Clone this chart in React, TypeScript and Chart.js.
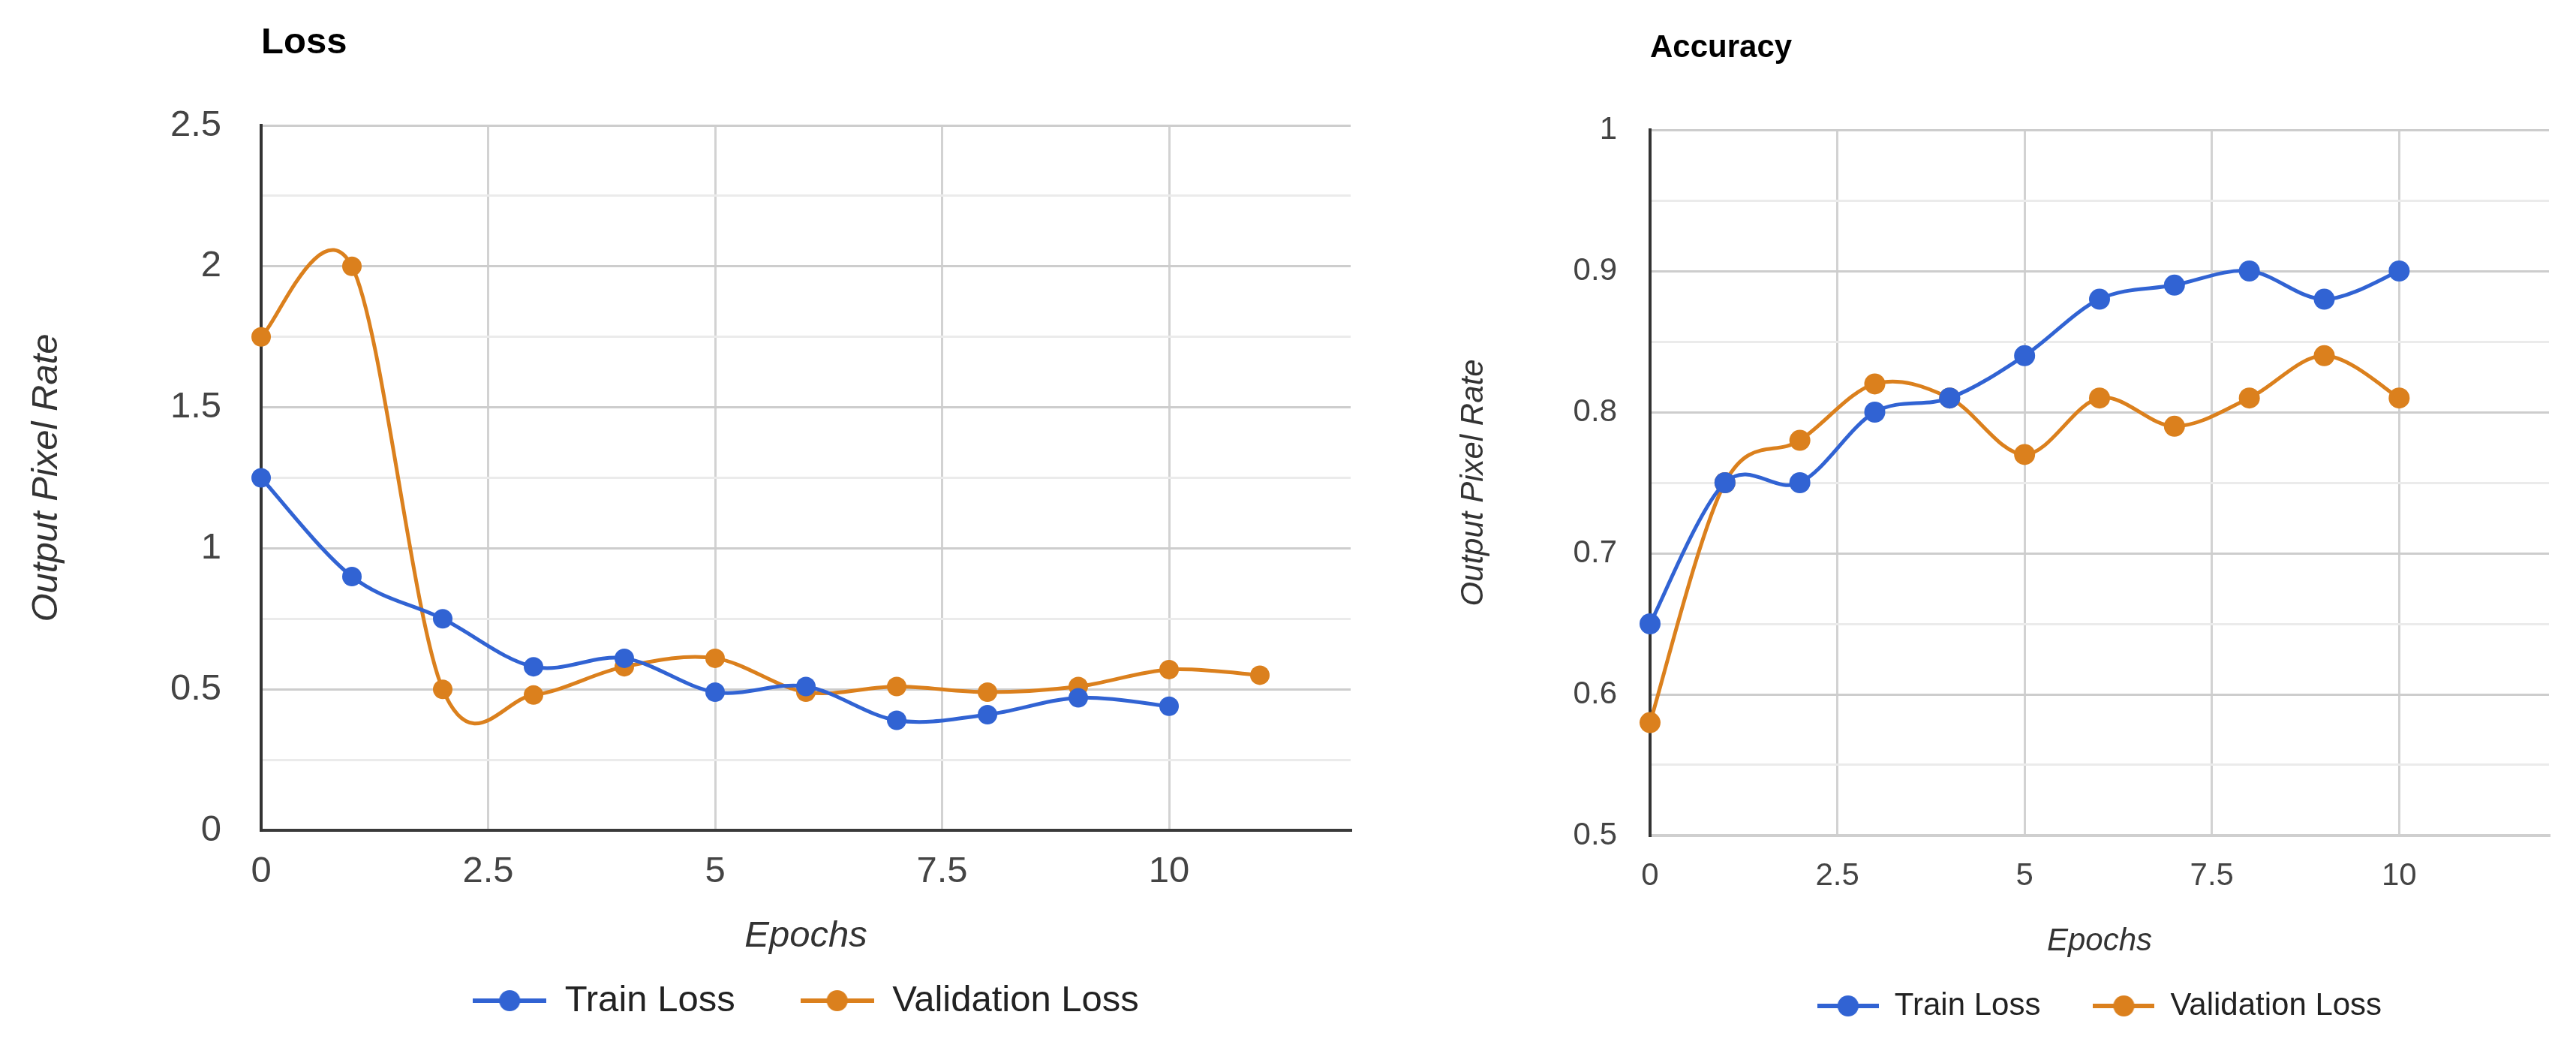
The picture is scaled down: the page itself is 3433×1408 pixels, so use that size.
import { useEffect, useRef } from "react";
import { Chart, registerables } from "chart.js";

Chart.register(...registerables);

// ---------- data ----------
const epochs = [0, 1, 2, 3, 4, 5, 6, 7, 8, 9, 10, 11];
const seriesNames = ["Train Loss", "Validation Loss"];

const lossTrain = [1.25, 0.9, 0.75, 0.58, 0.61, 0.49, 0.51, 0.39, 0.41, 0.47, 0.44];
const lossVal = [1.75, 2.0, 0.5, 0.48, 0.58, 0.61, 0.49, 0.51, 0.49, 0.51, 0.57, 0.55];

const accTrain = [0.65, 0.75, 0.75, 0.8, 0.81, 0.84, 0.88, 0.89, 0.9, 0.88, 0.9];
const accVal = [0.58, 0.75, 0.78, 0.82, 0.81, 0.77, 0.81, 0.79, 0.81, 0.84, 0.81];

const xTicks = [0, 2.5, 5, 7.5, 10];
const lossYTicks = [0, 0.25, 0.5, 0.75, 1, 1.25, 1.5, 1.75, 2, 2.25, 2.5];
const lossYLabels = [0, 0.5, 1, 1.5, 2, 2.5];
const accYTicks = [0.5, 0.55, 0.6, 0.65, 0.7, 0.75, 0.8, 0.85, 0.9, 0.95, 1];
const accYLabels = [0.5, 0.6, 0.7, 0.8, 0.9, 1];

const BLUE = "#3163d3";
const ORANGE = "#db801d";
const FONT = "'Liberation Sans', Arial, Helvetica, sans-serif";

// Catmull-Rom style smoothing (uniform in x), like a "function" curve
const catmullRom = {
  id: "catmullRom",
  beforeDatasetDraw(chart: any, args: any) {
    const meta = args.meta;
    const line = meta.dataset;
    if (!line || typeof line.updateControlPoints !== "function") return;
    line.updateControlPoints(chart.chartArea, meta.indexAxis || "x");
    const pts = meta.data;
    const n = pts.length;
    for (let i = 0; i < n; i++) {
      const p = pts[i];
      const prev = pts[Math.max(0, i - 1)];
      const next = pts[Math.min(n - 1, i + 1)];
      const dx = (next.x - prev.x) / 6;
      const dy = (next.y - prev.y) / 6;
      p.cp1x = p.x - dx;
      p.cp1y = p.y - dy;
      p.cp2x = p.x + dx;
      p.cp2y = p.y + dy;
    }
  },
};

function marker(color: string, w: number, r: number, lw: number) {
  const c = document.createElement("canvas");
  c.width = w;
  c.height = Math.ceil(2 * r + 2);
  const g = c.getContext("2d")!;
  const cy = c.height / 2;
  g.strokeStyle = color;
  g.lineWidth = lw;
  g.beginPath();
  g.moveTo(0, cy);
  g.lineTo(w, cy);
  g.stroke();
  g.fillStyle = color;
  g.beginPath();
  g.arc(w / 2, cy, r, 0, Math.PI * 2);
  g.fill();
  return c;
}

type Params = {
  title: string;
  train: number[];
  val: number[];
  yMin: number;
  yMax: number;
  yTicks: number[];
  yLabels: number[];
  fs: number;
  pad: { left: number; right: number; top: number; bottom: number };
  titlePad: { top: number; bottom: number };
  yTitlePad: { top: number; bottom: number };
  yTickPad: number;
  xTickPad: number;
  xTitlePad: { top: number; bottom: number };
  legendPad: number;
  legendLine: number;
  pointR: number;
  xBorder: string;
};

function makeConfig(p: Params): any {
  const markers = [marker(BLUE, p.legendLine, 14, 6), marker(ORANGE, p.legendLine, 14, 6)];
  const ds = (label: string, vals: number[], color: string) => ({
    label,
    data: vals.map((v, i) => ({ x: epochs[i], y: v })),
    borderColor: color,
    backgroundColor: color,
    borderWidth: 5,
    pointRadius: p.pointR,
    pointHoverRadius: p.pointR,
    pointBorderWidth: 0,
    pointBackgroundColor: color,
    tension: 0.4,
    fill: false,
    clip: false,
  });
  return {
    type: "line",
    data: {
      datasets: [ds(seriesNames[0], p.train, BLUE), ds(seriesNames[1], p.val, ORANGE)],
    },
    plugins: [catmullRom],
    options: {
      animation: false,
      responsive: false,
      maintainAspectRatio: false,
      events: [],
      layout: { padding: p.pad },
      plugins: {
        tooltip: { enabled: false },
        title: {
          display: true,
          text: p.title,
          align: "start",
          fullSize: false,
          color: "#000",
          font: { family: FONT, size: p.fs, weight: "bold", lineHeight: 1.2 },
          padding: p.titlePad,
        },
        legend: {
          display: true,
          position: "bottom",
          align: "center",
          fullSize: false,
          labels: {
            usePointStyle: true,
            pointStyleWidth: p.legendLine,
            boxHeight: p.fs,
            padding: p.legendPad,
            color: "#222",
            font: { family: FONT, size: p.fs },
            generateLabels: (chart: any) =>
              chart.data.datasets.map((d: any, i: number) => ({
                text: d.label,
                pointStyle: markers[i],
                fillStyle: d.borderColor,
                strokeStyle: d.borderColor,
                lineWidth: 0,
                hidden: false,
                datasetIndex: i,
                fontColor: "#222",
              })),
          },
        },
      },
      scales: {
        x: {
          type: "linear",
          min: 0,
          max: 12,
          afterBuildTicks: (axis: any) => {
            axis.ticks = xTicks.map((v) => ({ value: v }));
          },
          ticks: {
            autoSkip: false,
            maxRotation: 0,
            padding: p.xTickPad,
            color: "#444",
            font: { family: FONT, size: p.fs, lineHeight: 1.2 },
            callback: (v: any) => String(v),
          },
          grid: {
            drawTicks: false,
            lineWidth: 3,
            color: (c: any) => (c.tick && c.tick.value === 0 ? "rgba(0,0,0,0)" : "#d2d2d2"),
          },
          border: { display: true, color: p.xBorder, width: 4 },
          title: {
            display: true,
            text: "Epochs",
            color: "#333",
            font: { family: FONT, size: p.fs, style: "italic", lineHeight: 1.2 },
            padding: p.xTitlePad,
          },
        },
        y: {
          type: "linear",
          min: p.yMin,
          max: p.yMax,
          afterBuildTicks: (axis: any) => {
            axis.ticks = p.yTicks.map((v) => ({ value: v }));
          },
          ticks: {
            autoSkip: false,
            padding: p.yTickPad,
            color: "#444",
            font: { family: FONT, size: p.fs, lineHeight: 1.2 },
            callback: (v: any) => (p.yLabels.includes(v) ? String(v) : ""),
          },
          grid: {
            drawTicks: false,
            lineWidth: 3,
            color: (c: any) =>
              c.tick && p.yLabels.includes(c.tick.value) ? "#cdcdcd" : "#ebebeb",
          },
          border: { display: true, color: "#333", width: 4 },
          title: {
            display: true,
            text: "Output Pixel Rate",
            color: "#333",
            font: { family: FONT, size: p.fs, style: "italic", lineHeight: 1.2 },
            padding: p.yTitlePad,
          },
        },
      },
    },
  };
}

const lossParams: Params = {
  title: "Loss",
  train: lossTrain,
  val: lossVal,
  yMin: 0,
  yMax: 2.5,
  yTicks: lossYTicks,
  yLabels: lossYLabels,
  fs: 49,
  pad: { left: 32.6, right: 100, top: 0, bottom: 40.5 },
  titlePad: { top: 28, bottom: 80.2 },
  yTitlePad: { top: 0, bottom: 82.5 },
  yTickPad: 53,
  xTickPad: 25.6,
  xTitlePad: { top: 1.6, bottom: -54.9 },
  legendPad: 87,
  legendLine: 98,
  pointR: 13,
  xBorder: "#3a3a3a",
};

const accParams: Params = {
  title: "Accuracy",
  train: accTrain,
  val: accVal,
  yMin: 0.5,
  yMax: 1,
  yTicks: accYTicks,
  yLabels: accYLabels,
  fs: 42,
  pad: { left: 38.8, right: 36, top: 0, bottom: 37 },
  titlePad: { top: 38.8, bottom: 83.8 },
  yTitlePad: { top: 0, bottom: 63.4 },
  yTickPad: 44,
  xTickPad: 28.8,
  xTitlePad: { top: 7.8, bottom: -30.2 },
  legendPad: 70,
  legendLine: 82,
  pointR: 14,
  xBorder: "#cfcfcf",
};

function ChartCanvas({ params, width, height, left }: { params: Params; width: number; height: number; left: number }) {
  const ref = useRef<HTMLCanvasElement | null>(null);
  useEffect(() => {
    if (!ref.current) return;
    const chart = new Chart(ref.current, makeConfig(params));
    return () => chart.destroy();
  }, [params]);
  return (
    <canvas
      ref={ref}
      width={width}
      height={height}
      style={{ position: "absolute", left, top: 0, width, height, display: "block" }}
    />
  );
}

export default function App() {
  return (
    <div
      style={{
        position: "absolute",
        left: 0,
        top: 0,
        width: 3433,
        height: 1408,
        overflow: "hidden",
        background: "#fff",
      }}
    >
      <ChartCanvas params={lossParams} width={1900} height={1408} left={0} />
      <ChartCanvas params={accParams} width={1533} height={1408} left={1900} />
    </div>
  );
}
